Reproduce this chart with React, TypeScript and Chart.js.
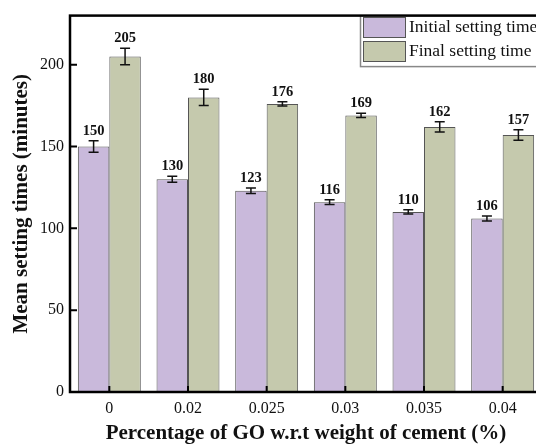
import React, { useEffect, useRef } from "react";
import { Chart, registerables } from "chart.js";

Chart.register(...registerables);

const categories = ["0", "0.02", "0.025", "0.03", "0.035", "0.04"];
const initialTimes = [150, 130, 123, 116, 110, 106];
const finalTimes = [205, 180, 176, 169, 162, 157];
const initialErrors = [3.5, 1.8, 1.7, 1.5, 1.3, 1.5];
const finalErrors = [5, 5, 1.3, 1.3, 3.1, 3.2];
const yTickValues = [0, 50, 100, 150, 200];
const seriesNames = ["Initial setting time", "Final setting time"];

const PURPLE = "#C9B9DB";
const GREEN = "#C5C9AD";
const SERIF = "'Liberation Serif', 'Times New Roman', serif";

const overlayPlugin = {
  id: "overlay",
  afterDatasetsDraw(chart: any) {
    const ctx = chart.ctx;
    const ys = chart.scales.y;
    const errs = [initialErrors, finalErrors];
    ctx.save();
    chart.data.datasets.forEach((ds: any, di: number) => {
      const meta = chart.getDatasetMeta(di);
      meta.data.forEach((bar: any, i: number) => {
        const v = ds.data[i];
        const e = errs[di][i];
        const x = bar.x;
        const yt = ys.getPixelForValue(v + e);
        const yb = ys.getPixelForValue(v - e);
        ctx.strokeStyle = "#111";
        ctx.lineWidth = 1.5;
        ctx.beginPath();
        ctx.moveTo(x, yt);
        ctx.lineTo(x, yb);
        ctx.moveTo(x - 5, yt);
        ctx.lineTo(x + 5, yt);
        ctx.moveTo(x - 5, yb);
        ctx.lineTo(x + 5, yb);
        ctx.stroke();
        ctx.fillStyle = "#111";
        ctx.font = `bold 14.5px ${SERIF}`;
        ctx.textAlign = "center";
        ctx.textBaseline = "alphabetic";
        ctx.fillText(String(v), x, yt - 6);
      });
    });
    ctx.restore();
  },
  afterDraw(chart: any) {
    const ctx = chart.ctx;
    const { left, right, top, bottom } = chart.chartArea;
    const ys = chart.scales.y;
    const xs = chart.scales.x;
    ctx.save();
    // legend
    ctx.fillStyle = "#fff";
    ctx.fillRect(360, top, chart.width - 360, 51);
    ctx.strokeStyle = "#888";
    ctx.lineWidth = 1.5;
    ctx.strokeRect(360.5, top, chart.width, 51);
    const colors = [PURPLE, GREEN];
    seriesNames.forEach((name, i) => {
      const sy = 17 + i * 24;
      ctx.fillStyle = colors[i];
      ctx.fillRect(363, sy, 42, 20);
      ctx.strokeStyle = "#555";
      ctx.lineWidth = 1;
      ctx.strokeRect(363.5, sy + 0.5, 42, 20);
      ctx.fillStyle = "#111";
      ctx.font = `17.5px ${SERIF}`;
      ctx.textAlign = "left";
      ctx.textBaseline = "middle";
      ctx.fillText(name, 409, sy + 10);
    });
    // ticks
    ctx.strokeStyle = "#000";
    ctx.lineWidth = 2;
    ctx.beginPath();
    yTickValues.forEach((v) => {
      const py = ys.getPixelForValue(v);
      ctx.moveTo(left, py);
      ctx.lineTo(left + 7, py);
    });
    categories.forEach((_, i) => {
      const px = xs.getPixelForValue(i);
      ctx.moveTo(px, bottom);
      ctx.lineTo(px, bottom - 6);
    });
    ctx.stroke();
    // frame
    ctx.lineWidth = 2.5;
    ctx.strokeRect(left, top, right - left, bottom - top);
    ctx.restore();
  },
};

export default function App() {
  const ref = useRef<HTMLCanvasElement>(null);
  useEffect(() => {
    if (!ref.current) return;
    const chart = new Chart(ref.current, {
      type: "bar",
      data: {
        labels: categories,
        datasets: [
          {
            label: seriesNames[0],
            data: initialTimes,
            backgroundColor: PURPLE,
            borderColor: "#555",
            borderWidth: 1,
            categoryPercentage: 0.8,
            barPercentage: 1,
          },
          {
            label: seriesNames[1],
            data: finalTimes,
            backgroundColor: GREEN,
            borderColor: "#555",
            borderWidth: 1,
            categoryPercentage: 0.8,
            barPercentage: 1,
          },
        ],
      },
      options: {
        responsive: false,
        animation: false,
        devicePixelRatio: 1,
        layout: { padding: { left: 0, right: 14, top: 13, bottom: 0 } },
        plugins: { legend: { display: false }, tooltip: { enabled: false } },
        scales: {
          x: {
            grid: { display: false, drawTicks: false },
            border: { display: false },
            ticks: {
              color: "#111",
              font: { family: SERIF, size: 16 },
              padding: 7,
              maxRotation: 0,
            },
            title: {
              display: true,
              text: "Percentage of GO w.r.t weight of cement (%)",
              color: "#111",
              font: { family: SERIF, size: 21, weight: "bold" },
              padding: { top: 0, bottom: 0 },
            },
            afterFit(scale: any) {
              scale.height = 54;
            },
          },
          y: {
            min: 0,
            max: 230,
            grid: { display: false, drawTicks: false },
            border: { display: false },
            ticks: {
              stepSize: 50,
              color: "#111",
              font: { family: SERIF, size: 16 },
              padding: 6,
            },
            afterBuildTicks(scale: any) {
              scale.ticks = yTickValues.map((v) => ({ value: v }));
            },
            title: {
              display: true,
              text: "Mean setting times (minutes)",
              color: "#111",
              font: { family: SERIF, size: 21, weight: "bold" },
              padding: { top: 9, bottom: 0 },
            },
            afterFit(scale: any) {
              scale.width = 70;
            },
          },
        },
      },
      plugins: [overlayPlugin],
    });
    return () => chart.destroy();
  }, []);
  return (
    <div
      style={{
        position: "fixed",
        left: 0,
        top: 0,
        width: 536,
        height: 446,
        overflow: "hidden",
        background: "#fff",
      }}
    >
      <canvas ref={ref} width={556} height={446} style={{ display: "block" }} />
    </div>
  );
}
